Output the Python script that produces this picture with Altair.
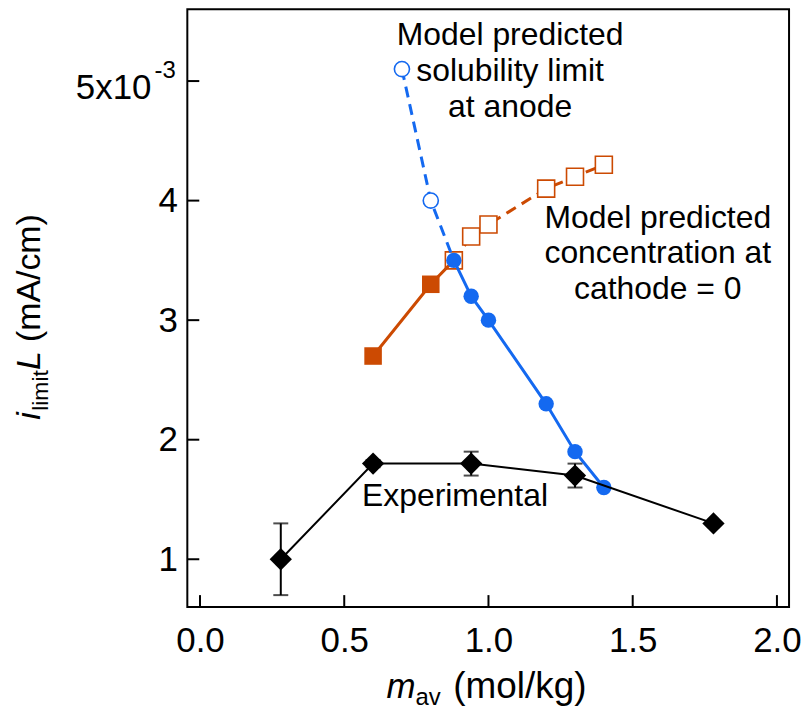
import altair as alt
import pandas as pd

FONT = "Liberation Sans"
BLUE = "#1469F0"
ORANGE = "#CC4A02"

# Experimental (black diamonds)
exp_x = [0.28, 0.60, 0.94, 1.30, 1.78]
exp_y = [1.0e-3, 1.8e-3, 1.8e-3, 1.7e-3, 1.3e-3]
# error bars
err_x = [0.28, 0.60, 0.94, 1.30]
err_lo = [0.70e-3, 1.77e-3, 1.70e-3, 1.60e-3]
err_hi = [1.30e-3, 1.83e-3, 1.90e-3, 1.80e-3]

# Model: solubility limit at anode (blue)
sol_x = [0.88, 0.94, 1.00, 1.20, 1.30, 1.40]
sol_y = [3.5e-3, 3.2e-3, 3.0e-3, 2.3e-3, 1.9e-3, 1.6e-3]
solm_x = [0.70, 0.80]
solm_y = [5.1e-3, 4.0e-3]

# Model: concentration at cathode = 0 (orange)
cat_x = [0.60, 0.80]
cat_y = [2.7e-3, 3.3e-3]
catm_x = [0.88, 0.94, 1.00, 1.20, 1.30, 1.40]
catm_y = [3.5e-3, 3.7e-3, 3.8e-3, 4.1e-3, 4.2e-3, 4.3e-3]

x_ticks = [0.0, 0.5, 1.0, 1.5, 2.0]
y_ticks = [1e-3, 2e-3, 3e-3, 4e-3, 5e-3]

ann_text = ["Model predicted\nsolubility limit\nat anode",
            "Model predicted\nconcentration at\ncathode = 0",
            "Experimental"]
ann_x = [1.075, 1.587, 0.884]
ann_y = [5.383e-3, 3.858e-3, 1.525e-3]

W, H = 604, 600
xs = alt.Scale(domain=[-0.044, 2.042], nice=False, zero=False)
ys = alt.Scale(domain=[0.6e-3, 5.6e-3], nice=False, zero=False)

LF = 35
xaxis = alt.Axis(values=x_ticks, format=".1f", title=None, grid=False, ticks=False,
                 domain=False, labelFont=FONT, labelFontSize=LF, labelColor="black",
                 labelPadding=17)
yaxis = alt.Axis(values=y_ticks, title=None, grid=False, ticks=False, domain=False,
                 labelFont=FONT, labelFontSize=LF, labelColor="black", labelPadding=10,
                 labelExpr="datum.value > 0.0045 ? '' : format(datum.value*1000, 'd')")


def X(f):
    return alt.X(f, type="quantitative", scale=xs, axis=xaxis)


def Y(f):
    return alt.Y(f, type="quantitative", scale=ys, axis=yaxis)


exp_df = pd.DataFrame({"x": exp_x, "y": exp_y})
err_df = pd.DataFrame({"x": err_x, "lo": err_lo, "hi": err_hi})
sol_df = pd.DataFrame({"x": sol_x, "y": sol_y})
solm_df = pd.DataFrame({"x": solm_x, "y": solm_y})
sold_df = pd.DataFrame({"x": solm_x + sol_x[:1], "y": solm_y + sol_y[:1]})
cat_df = pd.DataFrame({"x": cat_x + catm_x[:1], "y": cat_y + catm_y[:1]})
catf_df = pd.DataFrame({"x": cat_x, "y": cat_y})
catm_df = pd.DataFrame({"x": catm_x, "y": catm_y})
ann_df = pd.DataFrame({"x": ann_x, "y": ann_y, "t": ann_text})
xt_df = pd.DataFrame({"v": x_ticks})
yt_df = pd.DataFrame({"v": y_ticks})
one = pd.DataFrame({"a": [0]})
five = pd.DataFrame({"y": [5e-3]})

layers = []
# orange
layers.append(alt.Chart(catm_df).mark_line(color=ORANGE, strokeWidth=3, strokeDash=[11, 7]).encode(x=X("x"), y=Y("y")))
layers.append(alt.Chart(catm_df).mark_point(shape="square", filled=True, fill="white", stroke=ORANGE,
                                              strokeWidth=1.6, size=290, opacity=1).encode(x=X("x"), y=Y("y")))
layers.append(alt.Chart(cat_df).mark_line(color=ORANGE, strokeWidth=3).encode(x=X("x"), y=Y("y")))
layers.append(alt.Chart(catf_df).mark_point(shape="square", filled=True, color=ORANGE, size=310,
                                              opacity=1).encode(x=X("x"), y=Y("y")))
# blue
layers.append(alt.Chart(sold_df).mark_line(color=BLUE, strokeWidth=3, strokeDash=[11, 7]).encode(x=X("x"), y=Y("y")))
layers.append(alt.Chart(solm_df).mark_point(shape="circle", filled=True, fill="white", stroke=BLUE,
                                              strokeWidth=1.6, size=230, opacity=1).encode(x=X("x"), y=Y("y")))
layers.append(alt.Chart(sol_df).mark_line(color=BLUE, strokeWidth=3).encode(x=X("x"), y=Y("y")))
layers.append(alt.Chart(sol_df).mark_point(shape="circle", filled=True, color=BLUE, size=240,
                                             opacity=1).encode(x=X("x"), y=Y("y")))
# experimental
layers.append(alt.Chart(err_df).mark_rule(color="black", strokeWidth=2).encode(x=X("x"), y=Y("lo"), y2="hi"))
layers.append(alt.Chart(err_df).mark_tick(color="black", orient="horizontal", size=15, thickness=2).encode(x=X("x"), y=Y("lo")))
layers.append(alt.Chart(err_df).mark_tick(color="black", orient="horizontal", size=15, thickness=2).encode(x=X("x"), y=Y("hi")))
layers.append(alt.Chart(exp_df).mark_line(color="black", strokeWidth=2).encode(x=X("x"), y=Y("y")))
layers.append(alt.Chart(exp_df).mark_point(shape="diamond", filled=True, color="black", size=500,
                                             opacity=1).encode(x=X("x"), y=Y("y")))
# annotations
layers.append(alt.Chart(ann_df).mark_text(font=FONT, fontSize=32, lineBreak="\n", lineHeight=36,
                                            align="center", baseline="middle", color="black")
              .encode(x=X("x"), y=Y("y"), text="t:N"))
# inward ticks
layers.append(alt.Chart(xt_df).mark_rule(color="black", strokeWidth=2)
              .encode(x=X("v"), y=alt.value(H), y2=alt.value(H - 12)))
layers.append(alt.Chart(yt_df).mark_rule(color="black", strokeWidth=2)
              .encode(y=Y("v"), x=alt.value(0), x2=alt.value(12)))
# 5x10^-3 label
layers.append(alt.Chart(five).mark_text(font=FONT, fontSize=LF, align="right", baseline="middle", dy=7, color="black")
              .encode(y=Y("y"), x=alt.value(-36), text=alt.value("5x10")))
layers.append(alt.Chart(five).mark_text(font=FONT, fontSize=24, align="left", baseline="middle", dy=-10, color="black")
              .encode(y=Y("y"), x=alt.value(-33), text=alt.value("-3")))

# x title pieces
TF, SF = 35, 24
layers.append(alt.Chart(one).mark_text(font=FONT, fontSize=TF, fontStyle="italic", align="left",
                                         baseline="alphabetic", color="black")
              .encode(x=alt.value(200), y=alt.value(691), text=alt.value("m")))
layers.append(alt.Chart(one).mark_text(font=FONT, fontSize=SF, align="left", baseline="alphabetic", color="black")
              .encode(x=alt.value(229), y=alt.value(698), text=alt.value("av")))
layers.append(alt.Chart(one).mark_text(font=FONT, fontSize=37, align="left", baseline="alphabetic", color="black")
              .encode(x=alt.value(267), y=alt.value(691), text=alt.value("(mol/kg)")))

# y title pieces (rotated)
YF, YS = 34, 23
layers.append(alt.Chart(one).mark_text(font=FONT, fontSize=YF, fontStyle="italic", align="left",
                                         baseline="alphabetic", angle=270, color="black")
              .encode(x=alt.value(-148), y=alt.value(412), text=alt.value("i")))
layers.append(alt.Chart(one).mark_text(font=FONT, fontSize=YS, align="left", baseline="alphabetic",
                                         angle=270, color="black")
              .encode(x=alt.value(-140), y=alt.value(403), text=alt.value("limit")))
layers.append(alt.Chart(one).mark_text(font=FONT, fontSize=YF, fontStyle="italic", align="left",
                                         baseline="alphabetic", angle=270, color="black")
              .encode(x=alt.value(-148), y=alt.value(362), text=alt.value("L")))
layers.append(alt.Chart(one).mark_text(font=FONT, fontSize=YF, align="left", baseline="alphabetic",
                                         angle=270, color="black")
              .encode(x=alt.value(-148), y=alt.value(334), text=alt.value("(mA/cm)")))

chart = alt.layer(*layers).properties(
    width=W, height=H,
    autosize=alt.AutoSizeParams(type="none"),
    padding={"left": 180, "top": 0, "right": 12, "bottom": 106},
).configure_view(stroke="black", strokeWidth=2)

chart.save("out.html", embed_options={"renderer": "svg", "actions": False})
